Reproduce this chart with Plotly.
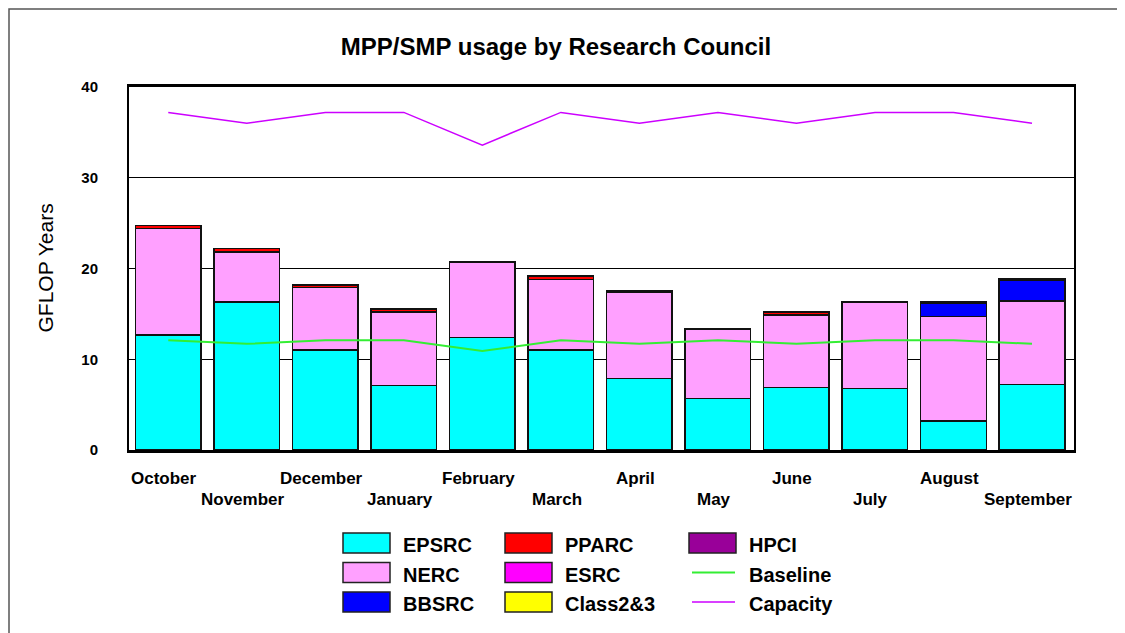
import plotly.graph_objects as go

months = ["October", "November", "December", "January", "February", "March",
          "April", "May", "June", "July", "August", "September"]

epsrc = [12.7, 16.3, 11.0, 7.1, 12.4, 11.0, 7.9, 5.7, 6.9, 6.8, 3.2, 7.2]
nerc = [11.7, 5.5, 6.9, 8.1, 8.3, 7.8, 9.5, 7.6, 8.0, 9.5, 11.5, 9.2]
bbsrc = [0, 0, 0, 0, 0, 0, 0, 0, 0, 0, 1.5, 2.3]
pparc = [0.35, 0.4, 0.3, 0.35, 0, 0.3, 0, 0, 0.3, 0, 0, 0]
esrc = [0] * 12
class23 = [0] * 12
hpci = [0, 0, 0, 0, 0, 0.1, 0.1, 0.1, 0, 0, 0.1, 0.15]
baseline = [12.1, 11.7, 12.1, 12.1, 10.9, 12.1, 11.7, 12.1, 11.7, 12.1, 12.1, 11.7]
capacity = [37.2, 36.0, 37.2, 37.2, 33.6, 37.2, 36.0, 37.2, 36.0, 37.2, 37.2, 36.0]
y_ticks = [0, 10, 20, 30, 40]

FONT = "Arial, Liberation Sans, sans-serif"

bar_series = [
    ("EPSRC", epsrc, "#00FFFF"),
    ("NERC", nerc, "#FFA0FF"),
    ("BBSRC", bbsrc, "#0000FF"),
    ("PPARC", pparc, "#FF0000"),
    ("ESRC", esrc, "#FF00FF"),
    ("Class2&3", class23, "#FFFF00"),
    ("HPCI", hpci, "#990099"),
]

fig = go.Figure()
for name, vals, col in bar_series:
    fig.add_trace(go.Bar(x=months, y=vals, name=name,
                         marker=dict(color=col, line=dict(color="#111111", width=1.5)),
                         showlegend=False))

fig.add_trace(go.Scatter(x=months, y=baseline, name="Baseline", mode="lines",
                         line=dict(color="#33EE33", width=2), showlegend=False))
fig.add_trace(go.Scatter(x=months, y=capacity, name="Capacity", mode="lines",
                         line=dict(color="#CC00FF", width=1.5), showlegend=False))

# page offset (browser body margin) and figure size
OFF = 8
FW, FH = 1125 - OFF, 633 - OFF
# plot area geometry in figure pixels
L, R, T, B = 129 - OFF, 1074 - OFF, 87 - OFF, 450 - OFF
W, H = R - L, B - T
def px(x):
    return (x - OFF - L) / W
def py(y):
    return (B - (y - OFF)) / H

annotations = []
# month labels in two staggered rows
for i, m in enumerate(months):
    annotations.append(dict(x=m, y=0, xref="x", yref="y", text="<b>%s</b>" % m,
                            showarrow=False, xshift=-4,
                            yshift=-28 if i % 2 == 0 else -49,
                            yanchor="middle", xanchor="center",
                            font=dict(family=FONT, size=17, color="black")))
# y-axis title
annotations.append(dict(x=px(45), y=0.5, xref="paper", yref="paper", text="GFLOP Years",
                        textangle=-90, showarrow=False, xanchor="center", yanchor="middle",
                        font=dict(family=FONT, size=21, color="black")))

shapes = []
# outer frame
shapes.append(dict(type="rect", xref="paper", yref="paper",
                   x0=px(OFF + 1), x1=px(1122), y0=py(OFF + 1), y1=py(680),
                   line=dict(color="#555555", width=1.5), layer="below"))

# manual legend
legend_items = [
    ("EPSRC", "#00FFFF", "box", 343, 543),
    ("NERC", "#FFA0FF", "box", 343, 572.5),
    ("BBSRC", "#0000FF", "box", 343, 602),
    ("PPARC", "#FF0000", "box", 505, 543),
    ("ESRC", "#FF00FF", "box", 505, 572.5),
    ("Class2&3", "#FFFF00", "box", 505, 602),
    ("HPCI", "#990099", "box", 689, 543),
    ("Baseline", "#33EE33", "line", 689, 572.5),
    ("Capacity", "#CC00FF", "line", 689, 602),
]
for name, col, kind, x0, yc in legend_items:
    if kind == "box":
        shapes.append(dict(type="rect", xref="paper", yref="paper",
                           x0=px(x0), x1=px(x0 + 47), y0=py(yc + 10), y1=py(yc - 10),
                           fillcolor=col, line=dict(color="#222222", width=1.5)))
    else:
        shapes.append(dict(type="line", xref="paper", yref="paper",
                           x0=px(x0 + 3), x1=px(x0 + 46), y0=py(yc), y1=py(yc),
                           line=dict(color=col, width=2 if name == "Baseline" else 1.5)))
    annotations.append(dict(x=px(x0 + 58), y=py(yc + 2), xref="paper", yref="paper",
                            text="<b>%s</b>" % name, showarrow=False,
                            xanchor="left", yanchor="middle",
                            font=dict(family=FONT, size=20, color="black")))

fig.update_layout(
    barmode="stack",
    bargap=0.165,
    width=FW, height=FH,
    margin=dict(l=L, r=FW - R, t=T, b=FH - B),
    paper_bgcolor="white", plot_bgcolor="white",
    showlegend=False,
    title=dict(text="<b>MPP/SMP usage by Research Council</b>",
               x=(556 - OFF) / FW, xref="container",
               xanchor="center", y=1 - (47 - OFF) / FH, yanchor="middle",
               font=dict(family=FONT, size=24, color="black")),
    annotations=annotations,
    shapes=shapes,
)
fig.update_xaxes(showticklabels=False, showgrid=False, showline=True, linecolor="black",
                 linewidth=2.5, mirror=True, ticks="")
fig.update_yaxes(range=[0, 40], tickvals=y_ticks, ticktext=["<b>%d</b>" % v for v in y_ticks],
                 showgrid=True, gridcolor="black", gridwidth=1, showline=True,
                 linecolor="black", linewidth=2, mirror=True, ticks="",
                 ticklabelstandoff=26, zeroline=False,
                 tickfont=dict(family=FONT, size=15, color="black"))

fig.write_html("out.html")
